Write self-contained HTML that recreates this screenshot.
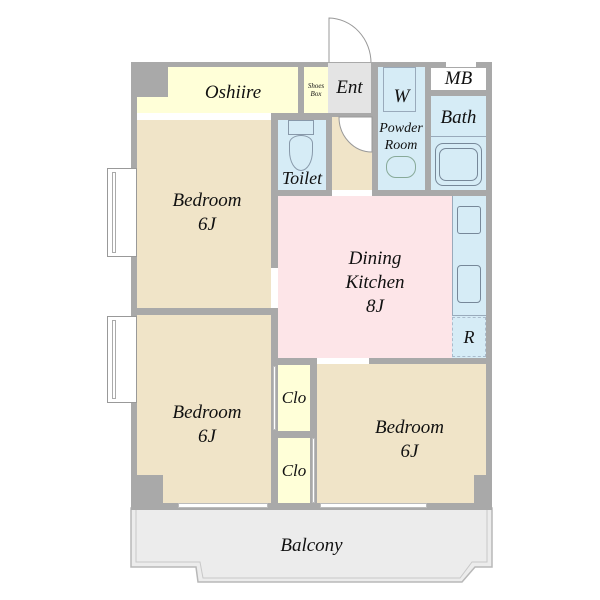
<!DOCTYPE html>
<html><head><meta charset="utf-8"><style>
body{margin:0;width:600px;height:600px;background:#fff;position:relative;overflow:hidden;font-family:"Liberation Serif",serif;font-style:italic;color:#111}
div{position:absolute;box-sizing:border-box}
.t{display:flex;align-items:center;justify-content:center;text-align:center;line-height:1.25}
</style></head><body>
<!-- balcony -->
<svg style="position:absolute;left:0;top:0" width="600" height="600">
<polygon points="131,508 492,508 492,567 475,567 462,582 198,582 196,567 131,567" fill="#ececec" stroke="#b8b8b8" stroke-width="1.5"/>
<polyline points="136,510 136,562 200,562 203,578 460,578 472,562 487,562 487,510" fill="none" stroke="#c8c8c8" stroke-width="1"/>
<path d="M329,63 L329,18 A43,45 0 0 1 371,63" fill="#fff" stroke="#999" stroke-width="1"/>
</svg>
<!-- outer wall -->
<div style="left:131px;top:62px;width:361px;height:448px;background:#a9a9a9"></div>
<!-- windows left -->
<div style="left:107px;top:168px;width:30px;height:89px;background:#fff;border:1px solid #999"></div>
<div style="left:112px;top:172px;width:4px;height:81px;border:1px solid #aaa"></div>
<div style="left:107px;top:316px;width:30px;height:87px;background:#fff;border:1px solid #999"></div>
<div style="left:112px;top:320px;width:4px;height:79px;border:1px solid #aaa"></div>
<!-- top white strip MB -->
<div style="left:446px;top:62px;width:30px;height:5px;background:#fff"></div>
<!-- Oshiire -->
<div style="left:168px;top:67px;width:130px;height:46px;background:#ffffd8"></div>
<div style="left:137px;top:97px;width:161px;height:16px;background:#ffffd8"></div>
<div style="left:137px;top:113px;width:134px;height:7px;background:#fff"></div>
<div class="t" style="left:168px;top:70px;width:130px;height:46px;font-size:19px">Oshiire</div>
<div class="t" style="left:304px;top:67px;width:24px;height:46px;background:#ffffd8;font-size:7px;line-height:1.2">Shoes<br>Box</div>
<div class="t" style="left:328px;top:63px;width:43px;height:50px;background:#e4e4e4;font-size:19px">Ent</div>
<!-- powder room -->
<div style="left:378px;top:67px;width:47px;height:123px;background:#d6ecf6"></div>
<div style="left:383px;top:67px;width:33px;height:45px;border:1px solid #9ab"></div>
<div class="t" style="left:378px;top:82px;width:47px;height:30px;font-size:19px">W</div>
<div class="t" style="left:374px;top:117px;width:54px;height:40px;font-size:14px">Powder<br>Room</div>
<div style="left:386px;top:156px;width:30px;height:22px;border:1px solid #8a9;border-radius:10px"></div>
<!-- MB and bath -->
<div class="t" style="left:431px;top:68px;width:55px;height:22px;background:#fff;font-size:19px">MB</div>
<div style="left:431px;top:96px;width:55px;height:94px;background:#d6ecf6"></div>
<div class="t" style="left:431px;top:100px;width:55px;height:36px;font-size:19px">Bath</div>
<div style="left:431px;top:136px;width:55px;height:1px;background:#9ab"></div>
<div style="left:435px;top:143px;width:47px;height:43px;border:1px solid #789;border-radius:8px"></div>
<div style="left:439px;top:148px;width:39px;height:33px;border:1px solid #789;border-radius:7px"></div>
<!-- toilet -->
<div style="left:278px;top:120px;width:48px;height:70px;background:#d6ecf6"></div>
<div style="left:288px;top:120px;width:26px;height:15px;border:1px solid #89a"></div>
<div style="left:289px;top:135px;width:24px;height:36px;border:1px solid #89a;border-radius:12px 12px 12px 12px/8px 8px 20px 20px"></div>
<div class="t" style="left:276px;top:166px;width:52px;height:24px;font-size:18px">Toilet</div>
<!-- hall -->
<div style="left:332px;top:117px;width:40px;height:73px;background:#f0e4c8"></div>
<div style="left:332px;top:190px;width:40px;height:6px;background:#fff"></div>
<svg style="position:absolute;left:0;top:0" width="600" height="600"><path d="M339,117 L372,117 L372,152 A33,35 0 0 1 339,117Z" fill="#fff" stroke="#999" stroke-width="1"/></svg>
<!-- bedroom 1 -->
<div style="left:137px;top:120px;width:134px;height:188px;background:#f0e4c8"></div>
<div style="left:271px;top:268px;width:7px;height:40px;background:#fff"></div>
<div class="t" style="left:137px;top:188px;width:140px;height:50px;font-size:19px">Bedroom<br>6J</div>
<!-- dining -->
<div style="left:278px;top:196px;width:174px;height:162px;background:#fde5e8"></div>
<div class="t" style="left:300px;top:248px;width:150px;height:70px;font-size:19px">Dining<br>Kitchen<br>8J</div>
<div style="left:452px;top:196px;width:34px;height:162px;background:#d6ecf6"></div>
<div style="left:452px;top:196px;width:34px;height:120px;border-left:1px solid #9ab;border-bottom:1px solid #9ab"></div>
<div style="left:457px;top:206px;width:24px;height:28px;border:1px solid #789;border-radius:3px"></div>
<div style="left:457px;top:265px;width:24px;height:38px;border:1px solid #789;border-radius:4px"></div>
<div class="t" style="left:452px;top:317px;width:34px;height:40px;border:1px dashed #abc;font-size:18px">R</div>
<!-- bedroom 2 -->
<div style="left:137px;top:315px;width:134px;height:188px;background:#f0e4c8"></div>
<div style="left:137px;top:475px;width:26px;height:28px;background:#a9a9a9"></div>
<div class="t" style="left:137px;top:400px;width:140px;height:50px;font-size:19px">Bedroom<br>6J</div>
<!-- closets -->
<div class="t" style="left:278px;top:365px;width:32px;height:66px;background:#ffffd8;font-size:17px">Clo</div>
<div class="t" style="left:278px;top:438px;width:32px;height:65px;background:#ffffd8;font-size:17px">Clo</div>
<div style="left:273px;top:366px;width:3px;height:64px;background:#fff;border:1px solid #bbb"></div>
<div style="left:312px;top:438px;width:3px;height:65px;background:#fff;border:1px solid #bbb"></div>
<!-- bedroom 3 -->
<div style="left:317px;top:364px;width:169px;height:139px;background:#f0e4c8"></div>
<div style="left:474px;top:475px;width:12px;height:28px;background:#a9a9a9"></div>
<div style="left:317px;top:358px;width:52px;height:6px;background:#fff"></div>
<div class="t" style="left:317px;top:415px;width:185px;height:50px;font-size:19px">Bedroom<br>6J</div>
<!-- bottom windows -->
<div style="left:178px;top:503px;width:90px;height:5px;background:#fff;border:1px solid #bbb"></div>
<div style="left:320px;top:503px;width:107px;height:5px;background:#fff;border:1px solid #bbb"></div>
<div class="t" style="left:131px;top:528px;width:361px;height:36px;font-size:19px">Balcony</div>
</body></html>
